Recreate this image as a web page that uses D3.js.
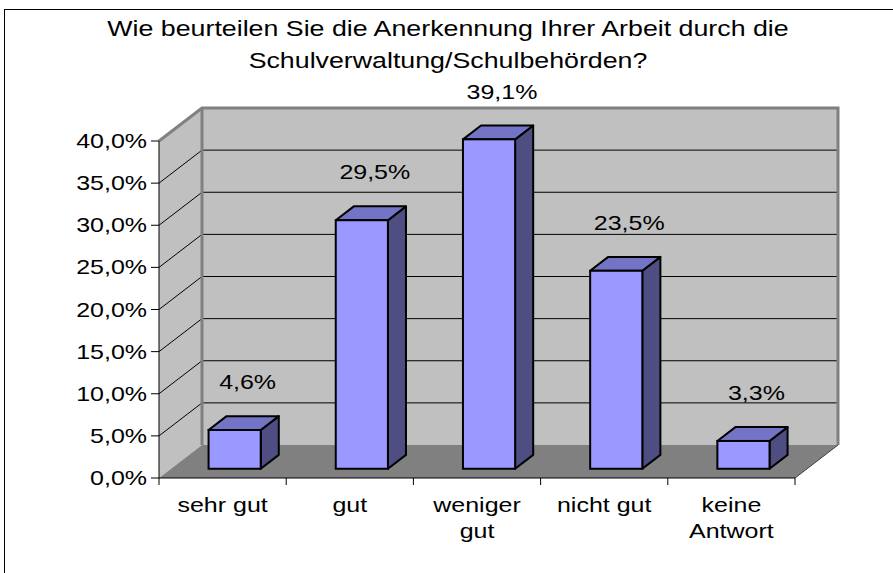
<!DOCTYPE html>
<html lang="de">
<head>
<meta charset="UTF-8">
<title>Anerkennung durch die Schulverwaltung</title>
<script src="https://d3js.org/d3.v7.min.js"></script>
<style>
  body { margin: 0; background: #fff; }
  text { font-family: "Liberation Sans", Arial, sans-serif; fill: #000; }
</style>
</head>
<body>
<svg width="893" height="573"></svg>
<script>
// data
const categories = [["sehr gut"], ["gut"], ["weniger", "gut"], ["nicht gut"], ["keine", "Antwort"]];
const values = [0.046, 0.295, 0.391, 0.235, 0.033];
const valueLabels = ["4,6%", "29,5%", "39,1%", "23,5%", "3,3%"];
const yTicks = [0, 0.05, 0.10, 0.15, 0.20, 0.25, 0.30, 0.35, 0.40];
const titleLines = ["Wie beurteilen Sie die Anerkennung Ihrer Arbeit durch die", "Schulverwaltung/Schulbehörden?"];

const svg = d3.select("svg");
const fmt = d => d3.format(".1f")(d * 100).replace(".", ",") + "%";
const SX = 1.19; // text in the picture is a bit stretched horizontally

// 3d box: front plane and the depth offset
const DX = 43, DY = -33;
const x = d3.scaleBand().domain(d3.range(categories.length)).range([159, 795]);
const y = d3.scaleLinear().domain([0, 0.4]).range([478, 141]);
const d1 = 0.28, d2 = 0.70; // bar depth inside the box
const barW = x.bandwidth() * 0.41;

// outer frame
svg.append("rect")
   .attr("x", 4.5).attr("y", 9.5)
   .attr("width", 900).attr("height", 600)
   .attr("fill", "none").attr("stroke", "#000");

const x0 = x.range()[0], x1 = x.range()[1];
const yTop = y(0.4), yBot = y(0);

// side wall
svg.append("polygon")
   .attr("points", [[x0, yBot], [x0, yTop], [x0 + DX, yTop + DY], [x0 + DX, yBot + DY]].join(" "))
   .attr("fill", "#c0c0c0");
// back wall
svg.append("rect")
   .attr("x", x0 + DX).attr("y", yTop + DY)
   .attr("width", x1 - x0).attr("height", yBot - yTop)
   .attr("fill", "#c0c0c0");
// floor
svg.append("polygon")
   .attr("points", [[x0, yBot], [x1, yBot], [x1 + DX, yBot + DY], [x0 + DX, yBot + DY]].join(" "))
   .attr("fill", "#808080");

// gridlines
const grid = yTicks.filter(t => t > 0 && t < 0.4);
svg.selectAll(".gside").data(grid).enter().append("line")
   .attr("x1", x0).attr("y1", d => y(d))
   .attr("x2", x0 + DX).attr("y2", d => y(d) + DY)
   .attr("stroke", "#000").attr("stroke-width", 1);
svg.selectAll(".gback").data(grid).enter().append("line")
   .attr("x1", x0 + DX).attr("y1", d => y(d) + DY)
   .attr("x2", x1 + DX).attr("y2", d => y(d) + DY)
   .attr("stroke", "#000").attr("stroke-width", 1);

// wall borders
svg.append("path")
   .attr("d", `M${x0},${yTop}L${x0 + DX},${yTop + DY}H${x1 + DX}V${yBot + DY}`)
   .attr("fill", "none").attr("stroke", "#808080").attr("stroke-width", 3);
svg.append("line")
   .attr("x1", x0 + DX).attr("y1", yTop + DY).attr("x2", x0 + DX).attr("y2", yBot + DY)
   .attr("stroke", "#808080").attr("stroke-width", 3);
svg.append("line")
   .attr("x1", x1).attr("y1", yBot).attr("x2", x1 + DX).attr("y2", yBot + DY)
   .attr("stroke", "#404040").attr("stroke-width", 1);

// bars
const bars = svg.selectAll(".bar").data(values).enter().append("g").attr("class", "bar");
const bdx = DX * (d2 - d1), bdy = DY * (d2 - d1);
const xl = i => x(i) + (x.bandwidth() - barW) / 2 + DX * d1;
const yb = () => y(0) + DY * d1;
const yt = v => y(v) + DY * d1;

bars.append("polygon")
    .attr("points", (v, i) => [[xl(i) + barW, yt(v)], [xl(i) + barW + bdx, yt(v) + bdy],
                               [xl(i) + barW + bdx, yb() + bdy], [xl(i) + barW, yb()]].join(" "))
    .attr("fill", "#4e4e82").attr("stroke", "#000").attr("stroke-width", 2).attr("stroke-linejoin", "round");
bars.append("polygon")
    .attr("points", (v, i) => [[xl(i), yt(v)], [xl(i) + barW, yt(v)],
                               [xl(i) + barW + bdx, yt(v) + bdy], [xl(i) + bdx, yt(v) + bdy]].join(" "))
    .attr("fill", "#7474c6").attr("stroke", "#000").attr("stroke-width", 2).attr("stroke-linejoin", "round");
bars.append("rect")
    .attr("x", (v, i) => xl(i)).attr("y", v => yt(v))
    .attr("width", barW).attr("height", v => yb() - yt(v))
    .attr("fill", "#9999ff").attr("stroke", "#000").attr("stroke-width", 2);

// value labels
svg.selectAll(".vlab").data(values).enter().append("text")
   .attr("transform", (v, i) => `translate(${x(i) + x.bandwidth() / 2 + 25},${y(v) - 50}) scale(${SX},1)`)
   .attr("text-anchor", "middle").attr("font-size", 21)
   .text((v, i) => valueLabels[i]);

// y axis
svg.append("line")
   .attr("x1", x0).attr("y1", yTop).attr("x2", x0).attr("y2", yBot)
   .attr("stroke", "#000");
svg.selectAll(".ytick").data(yTicks).enter().append("line")
   .attr("x1", x0 - 8).attr("x2", x0)
   .attr("y1", d => y(d)).attr("y2", d => y(d))
   .attr("stroke", "#000");
svg.selectAll(".ylab").data(yTicks).enter().append("text")
   .attr("transform", d => `translate(${x0 - 12},${y(d) + 7}) scale(${SX},1)`)
   .attr("text-anchor", "end").attr("font-size", 21)
   .text(fmt);

// x axis
svg.append("line")
   .attr("x1", x0).attr("y1", yBot).attr("x2", x1).attr("y2", yBot)
   .attr("stroke", "#000");
svg.selectAll(".xtick").data(d3.range(categories.length + 1)).enter().append("line")
   .attr("x1", i => x0 + i * x.step()).attr("x2", i => x0 + i * x.step())
   .attr("y1", yBot).attr("y2", yBot + 7)
   .attr("stroke", "#000");
const xl2 = svg.selectAll(".xlab").data(categories).enter().append("text")
   .attr("transform", (c, i) => `translate(${x(i) + x.bandwidth() / 2},${yBot + 34}) scale(${SX},1)`)
   .attr("text-anchor", "middle").attr("font-size", 21);
xl2.selectAll("tspan").data(c => c).enter().append("tspan")
   .attr("x", 0).attr("dy", (t, j) => j ? 26 : 0)
   .text(t => t);

// title
svg.selectAll(".title").data(titleLines).enter().append("text")
   .attr("transform", (t, i) => `translate(448,${36 + i * 32}) scale(${SX},1)`)
   .attr("text-anchor", "middle").attr("font-size", 22.5)
   .text(t => t);
</script>
</body>
</html>
